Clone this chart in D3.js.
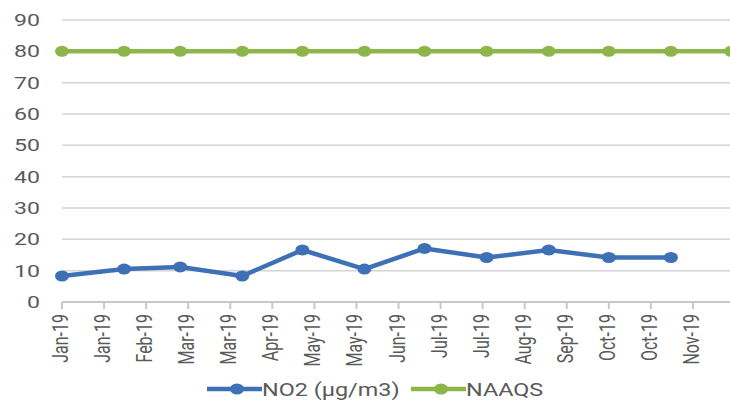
<!DOCTYPE html>
<html><head><meta charset="utf-8">
<script src="https://cdn.jsdelivr.net/npm/d3@7"></script>
<style>body{margin:0;background:#fff}svg{display:block}</style>
</head><body>
<svg id="c" width="730" height="403"></svg>
<script>
const no2Dates = ["2019-01-01","2019-02-01","2019-03-01","2019-04-01","2019-05-01","2019-06-01","2019-07-01","2019-08-01","2019-09-01","2019-10-01","2019-11-01"];
const no2Values = [8.3,10.5,11.2,8.3,16.6,10.5,17.1,14.2,16.6,14.2,14.2];
const naaqsDates = ["2019-01-01","2019-02-01","2019-03-01","2019-04-01","2019-05-01","2019-06-01","2019-07-01","2019-08-01","2019-09-01","2019-10-01","2019-11-01","2019-12-01"];
const naaqsValues = [80,80,80,80,80,80,80,80,80,80,80,80];
const xTickLabels = ["Jan-19","Jan-19","Feb-19","Mar-19","Mar-19","Apr-19","May-19","May-19","Jun-19","Jul-19","Jul-19","Aug-19","Sep-19","Oct-19","Oct-19","Nov-19"];
const yTicks = [0,10,20,30,40,50,60,70,80,90];
const seriesNames = ["NO2 (µg/m3)","NAAQS"];
const colors = ["#3e70b5","#8cb64a"];

const parse = d3.utcParse("%Y-%m-%d");
const svg = d3.select("#c");
const x = d3.scaleUtc().domain([parse("2019-01-01"), parse("2019-12-01")]).range([62, 731]);
const y = d3.scaleLinear().domain([0, 90]).range([302, 20]);
const tickDates = xTickLabels.map((l, i) => d3.utcDay.offset(parse("2019-01-01"), 21 * i));
const font = "Roboto, 'Noto Sans', sans-serif";
const SX = 1.4;

// gridlines
svg.append("g").selectAll("line").data(yTicks.filter(d => d > 0)).join("line")
  .attr("x1", 62).attr("x2", 740).attr("y1", d => y(d)).attr("y2", d => y(d))
  .attr("stroke", "#d4d4d4").attr("stroke-width", 1.5);

// y labels
svg.append("g").selectAll("text").data(yTicks).join("text")
  .attr("transform", d => `translate(40,${y(d) + 6}) scale(${SX},1)`)
  .attr("text-anchor", "end").attr("font-family", font).attr("font-size", 16.5)
  .attr("fill", "#595959").text(d => d);

// x axis line and ticks
svg.append("line").attr("x1", 62).attr("x2", 740).attr("y1", y(0)).attr("y2", y(0))
  .attr("stroke", "#c8c8c8").attr("stroke-width", 2);
svg.append("g").selectAll("line").data(tickDates).join("line")
  .attr("x1", d => x(d)).attr("x2", d => x(d)).attr("y1", y(0)).attr("y2", y(0) + 7)
  .attr("stroke", "#c8c8c8").attr("stroke-width", 2);
svg.append("g").selectAll("text").data(tickDates).join("text")
  .attr("transform", d => `translate(${x(d) + 6},314) scale(${SX},1) rotate(-90)`)
  .attr("text-anchor", "end").attr("font-family", font).attr("font-size", 16)
  .attr("fill", "#595959").text((d, i) => xTickLabels[i]);

// series
const series = [
  {dates: no2Dates, values: no2Values, color: colors[0]},
  {dates: naaqsDates, values: naaqsValues, color: colors[1]}
];
const line = d3.line().x(d => x(d[0])).y(d => y(d[1]));
series.slice().reverse().forEach(s => {
  const pts = s.dates.map((d, i) => [parse(d), s.values[i]]);
  svg.append("path").datum(pts).attr("d", line).attr("fill", "none")
    .attr("stroke", s.color).attr("stroke-width", 4.5).attr("stroke-linejoin", "round");
  svg.append("g").selectAll("ellipse").data(pts).join("ellipse")
    .attr("cx", d => x(d[0])).attr("cy", d => y(d[1])).attr("rx", 7).attr("ry", 5.5)
    .attr("fill", s.color);
});

// legend
const legX = [207, 411];
seriesNames.forEach((n, i) => {
  const g = svg.append("g");
  g.append("line").attr("x1", legX[i]).attr("x2", legX[i] + 55).attr("y1", 389).attr("y2", 389)
    .attr("stroke", colors[i]).attr("stroke-width", 4.5);
  g.append("ellipse").attr("cx", legX[i] + 30).attr("cy", 389).attr("rx", 7).attr("ry", 5.5).attr("fill", colors[i]);
  g.append("text").attr("transform", `translate(${legX[i] + 55},396) scale(1.3,1)`)
    .attr("font-family", font).attr("font-size", 18).attr("fill", "#595959").text(n);
});
</script>
</body></html>
